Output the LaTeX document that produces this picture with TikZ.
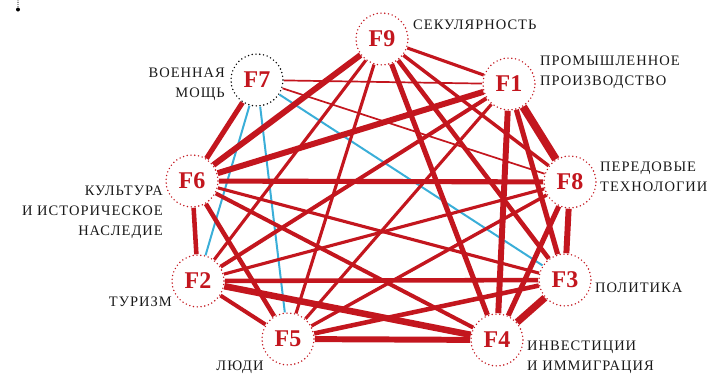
\documentclass[tikz,border=0pt]{standalone}
\usepackage{fontspec}
\setmainfont{Liberation Serif}
\newfontfamily\lblfont[LetterSpace=7]{Liberation Serif}
\definecolor{fred}{HTML}{C3161E}
\definecolor{fblue}{HTML}{3AAED8}
\tikzset{
  factor/.style={circle, draw=fred, fill=white, dash pattern=on 0pt off 3.8pt, line cap=round, line width=1.6pt, minimum size=52pt, inner sep=0pt, text=fred, font=\fontsize{24}{24}\selectfont\bfseries},
  caption/.style={font=\lblfont\fontsize{14.5}{20}\selectfont, text=black!90, inner sep=0pt},
  tie/.style={draw=fred},
  weak/.style={draw=fblue, line width=0.7mm}
}

\begin{document}
\begin{tikzpicture}[x=1pt,y=-1pt]
		%%%%% START %%%%%
		\useasboundingbox (0,0) rectangle (713,375);
		
		\draw[dash pattern=on 0pt off 2.2pt, line cap=round, line width=1.1pt] (18,0) -- (18,8);
		\fill (18,9.5) circle (2);
		
		% factors
		\node[factor] (f9) at (382,39) {F9};
		\node[factor] (f1) at (509,84) {F1};
		\node[factor] (f8) at (570,182) {F8};
		\node[factor] (f3) at (565,280) {F3};
		\node[factor] (f4) at (497,340) {F4};
		\node[factor] (f5) at (288,339) {F5};
		\node[factor] (f2) at (198,281) {F2};
		\node[factor] (f6) at (192,181) {F6};
		\node[factor, draw=black] (f7) at (257,80) {F7};
		
		% captions
		\node[caption, anchor=west] (c9) at (413,25) {СЕКУЛЯРНОСТЬ};
		\node[caption, anchor=west, align=left] (c1) at (540,72) {ПРОМЫШЛЕННОЕ\\ПРОИЗВОДСТВО};
		\node[caption, anchor=west, align=left] (c8) at (600,177) {ПЕРЕДОВЫЕ\\ТЕХНОЛОГИИ};
		\node[caption, anchor=west] (c3) at (595,288) {ПОЛИТИКА};
		\node[caption, anchor=west, align=left] (c4) at (527,357) {ИНВЕСТИЦИИ\\И ИММИГРАЦИЯ};
		\node[caption] (c5) at (240,367) {ЛЮДИ};
		\node[caption, anchor=east] (c2) at (172,302) {ТУРИЗМ};
		\node[caption, anchor=east, align=right] (c6) at (163,212) {КУЛЬТУРА\\И ИСТОРИЧЕСКОЕ\\НАСЛЕДИЕ};
		\node[caption, anchor=east, align=right] (c7) at (225,84) {ВОЕННАЯ\\МОЩЬ};
		
		% weak ties
		\draw[weak] (f7) -- (f3);
		\draw[weak] (f7) -- (f2);
		\draw[weak] (f7) -- (f5);
		
		% strong ties
		\draw[tie, line width=0.6mm] (f7) -- (f1);
		\draw[tie, line width=0.6mm] (f7) -- (f8);
		\draw[tie, line width=1.8mm] (f7) -- (f6);
		\draw[tie, line width=1.1mm] (f9) -- (f1);
		\draw[tie, line width=2.1mm] (f9) -- (f6);
		\draw[tie, line width=1.1mm] (f9) -- (f2);
		\draw[tie, line width=1.1mm] (f9) -- (f5);
		\draw[tie, line width=1.8mm] (f9) -- (f4);
		\draw[tie, line width=1.6mm] (f9) -- (f3);
		\draw[tie, line width=1.2mm] (f9) -- (f8);
		
		\draw[tie, line width=2.1mm] (f6) -- (f1);
		\draw[tie, line width=1.8mm] (f6) -- (f8);
		\draw[tie, line width=1.6mm] (f6) -- (f2);
		\draw[tie, line width=1.1mm] (f6) -- (f3);
		\draw[tie, line width=1.4mm] (f6) -- (f4);
		\draw[tie, line width=1.6mm] (f6) -- (f5);
		
		\draw[tie, line width=1.4mm] (f1) -- (f2);
		\draw[tie, line width=1.1mm] (f1) -- (f5);
		\draw[tie, line width=2.1mm] (f1) -- (f4);
		\draw[tie, line width=1.8mm] (f1) -- (f3);
		\draw[tie, line width=2.8mm] (f1) -- (f8);
		
		\draw[tie, line width=1.1mm] (f8) -- (f2);
		\draw[tie, line width=1.2mm] (f8) -- (f5);
		\draw[tie, line width=1.8mm] (f8) -- (f4);
		\draw[tie, line width=2.1mm] (f8) -- (f3);
		
		\draw[tie, line width=2.5mm] (f3) -- (f4);
		\draw[tie, line width=1.6mm] (f3) -- (f2);
		\draw[tie, line width=1.6mm] (f3) -- (f5);
		
		\draw[tie, line width=1.4mm] (f2) -- (f5);
		\draw[tie, line width=2.3mm] (f2) -- (f4);
		\draw[tie, line width=2.1mm] (f5) -- (f4);
		
		%%%%% END %%%%%
	\end{tikzpicture}
\end{document}
